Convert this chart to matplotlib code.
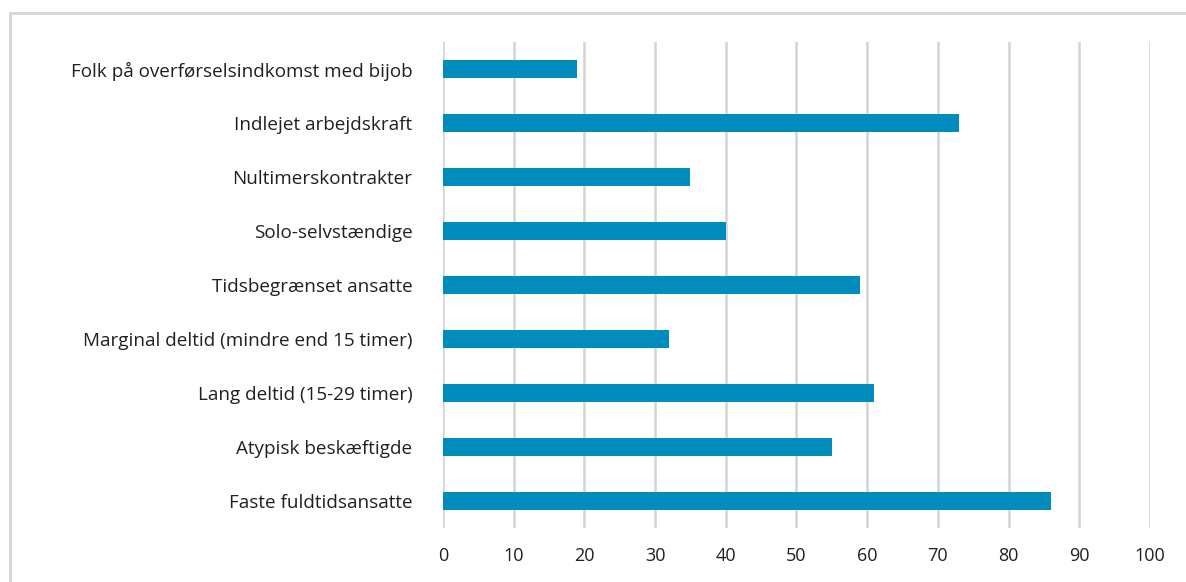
import matplotlib.pyplot as plt
from matplotlib.lines import Line2D

categories = [
    'Faste fuldtidsansatte',
    'Atypisk beskæftigde',
    'Lang deltid (15-29 timer)',
    'Marginal deltid (mindre end 15 timer)',
    'Tidsbegrænset ansatte',
    'Solo-selvstændige',
    'Nultimerskontrakter',
    'Indlejet arbejdskraft',
    'Folk på overførselsindkomst med bijob',
]
values = [86, 55, 61, 32, 59, 40, 35, 73, 19]
xticks = [0, 10, 20, 30, 40, 50, 60, 70, 80, 90, 100]

plt.rcParams['font.family'] = ['Open Sans', 'DejaVu Sans']

fig = plt.figure(figsize=(11.86, 5.82), dpi=100)
ax = fig.add_axes([0.3735, 0.0928, 0.5961, 0.835])

ax.barh(range(len(categories)), values, height=0.35, color='#008cbc', zorder=3)

ax.set_xlim(0, 100)
ax.set_ylim(-0.5, len(categories) - 0.5)
ax.set_xticks(xticks)
ax.set_yticks(range(len(categories)))
ax.set_yticklabels(categories)
ax.grid(axis='x', color='#d4d4d4', linewidth=1.8, zorder=0)
ax.grid(axis='y', visible=False)
ax.tick_params(axis='y', length=0, labelsize=13.6, colors='#231f20', pad=22)
ax.tick_params(axis='x', length=0, labelsize=13, colors='#231f20', pad=14)
for s in ax.spines.values():
    s.set_visible(False)

# light frame around the chart
fig.add_artist(Line2D([10 / 1186, 1], [1 - 13 / 582, 1 - 13 / 582],
                      transform=fig.transFigure, color='#d5d5d5', linewidth=2))
fig.add_artist(Line2D([10 / 1186, 10 / 1186], [0, 1 - 13 / 582],
                      transform=fig.transFigure, color='#d5d5d5', linewidth=2))

fig.savefig('out.png', dpi=100)
